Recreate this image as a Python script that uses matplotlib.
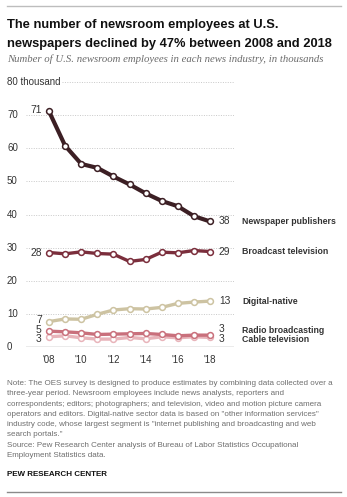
import matplotlib
matplotlib.use("Agg")
import matplotlib.pyplot as plt
from matplotlib.lines import Line2D
from matplotlib.transforms import blended_transform_factory

years = list(range(2008, 2019))
newspaper = [71.2, 60.8, 55.3, 54.1, 51.5, 49.1, 46.4, 44.1, 42.5, 39.5, 37.9]
broadcast = [28.5, 28.1, 28.7, 28.2, 28.0, 25.8, 26.4, 28.6, 28.4, 29.1, 28.8]
digital = [7.6, 8.4, 8.3, 9.8, 11.1, 11.5, 11.4, 11.9, 13.1, 13.5, 13.8]
radio = [4.7, 4.5, 4.2, 3.7, 3.8, 3.9, 4.0, 3.7, 3.3, 3.5, 3.5]
cable = [3.0, 3.3, 2.7, 2.3, 2.3, 2.8, 2.4, 3.0, 2.7, 3.0, 2.8]

series_names = ["Cable television", "Radio broadcasting", "Digital-native",
                "Broadcast television", "Newspaper publishers"]
series_values = [cable, radio, digital, broadcast, newspaper]
start_labels = ["3", "5", "7", "28", "71"]
end_labels = ["3", "3", "13", "29", "38"]
colors = ["#e8b4ba", "#c9707c", "#cdc3a2", "#7b2e3c", "#3c1f24"]

y_ticks = [0, 10, 20, 30, 40, 50, 60, 70, 80]
x_ticks = [2008, 2010, 2012, 2014, 2016, 2018]
x_ticklabels = ["'08", "'10", "'12", "'14", "'16", "'18"]

W, H = 347, 497
fig = plt.figure(figsize=(W / 100, H / 100), dpi=100)
fig.patch.set_facecolor("white")

sans = ["Liberation Sans", "DejaVu Sans"]
gray_txt = "#6e6e6e"

# top and bottom rules
fig.add_artist(Line2D([7 / W, 341 / W], [1 - 6 / H, 1 - 6 / H], color="#bdbdbd", lw=1))
fig.add_artist(Line2D([7 / W, 341 / W], [1 - 492 / H, 1 - 492 / H], color="#8a8a8a", lw=1))

fig.text(7 / W, 1 - 25 / H, "The number of newsroom employees at U.S.", family=sans,
         fontweight="bold", fontsize=9.3, va="center", ha="left", color="#111111")
fig.text(7 / W, 1 - 44 / H, "newspapers declined by 47% between 2008 and 2018", family=sans,
         fontweight="bold", fontsize=9.3, va="center", ha="left", color="#111111")
fig.text(7 / W, 1 - 59 / H, "Number of U.S. newsroom employees in each news industry, in thousands",
         family=["Liberation Serif", "DejaVu Serif"], style="italic", fontsize=7.75, va="center",
         ha="left", color="#6b6b6b")

ax = fig.add_axes([26 / W, 1 - 346.7 / H, 208 / W, (346.7 - 82.3) / H])
ax.set_xlim(2006.57, 2019.49)
ax.set_ylim(0, 80)
for s in ax.spines.values():
    s.set_visible(False)
ax.set_yticks([])
ax.set_xticks(x_ticks)
ax.set_xticklabels(x_ticklabels, family=sans, fontsize=7, color="#333333")
ax.tick_params(axis="x", length=0, pad=6)
ax.patch.set_alpha(0)

trans = blended_transform_factory(fig.transFigure, ax.transData)
for t in y_ticks:
    if t == 0:
        ax.axhline(0, color="#9e9e9e", lw=1, zorder=1)
        ax.text(7 / W, t, "0", transform=trans, family=sans, fontsize=7, va="center", color="#333333")
    elif t == 80:
        ax.plot([2006.57 + (62 - 26) / 16.1, 2019.49], [t, t], color="#c8c8c8",
                lw=0.7, ls=(0, (1, 1.5)), zorder=1)
        ax.text(7 / W, t, "80 thousand", transform=trans, family=sans, fontsize=7, va="center",
                color="#333333")
    else:
        ax.axhline(t, color="#c8c8c8", lw=0.7, ls=(0, (1, 1.5)), zorder=1)
        ax.text(7 / W, t, str(t), transform=trans, family=sans, fontsize=7, va="center",
                color="#333333")

for name, vals, c in zip(series_names, series_values, colors):
    lw = 3.0 if name == "Newspaper publishers" else 2.4
    ax.plot(years, vals, color=c, lw=lw, marker="o", ms=4.2, mfc="white", mec=c, mew=1.1,
            zorder=3, solid_capstyle="round")

# start value labels
start_y = [2.2, 5.05, 8.1, 28.3, 71.5]
for lab, y in zip(start_labels, start_y):
    ax.text(2007.55, y, lab, ha="right", va="center", family=sans, fontsize=7.4, color="#333333")

# end labels
end_y = [2.3, 5.3, 13.8, 28.8, 37.9]
name_y = [2.2, 5.05, 13.8, 28.8, 37.9]
for lab, y, name, ny in zip(end_labels, end_y, series_names, name_y):
    ax.text(2018.55, y, lab, ha="left", va="center", family=sans, fontsize=7.4, color="#333333",
            clip_on=False)
    ax.text(242 / W, ny, name, transform=trans, ha="left", va="center", family=sans,
            fontweight="bold", fontsize=6.3, color="#333333")

note = ("Note: The OES survey is designed to produce estimates by combining data collected over a\n"
        "three-year period. Newsroom employees include news analysts, reporters and\n"
        "correspondents; editors; photographers; and television, video and motion picture camera\n"
        "operators and editors. Digital-native sector data is based on \"other information services\"\n"
        "industry code, whose largest segment is \"internet publishing and broadcasting and web\n"
        "search portals.\"\n"
        "Source: Pew Research Center analysis of Bureau of Labor Statistics Occupational\n"
        "Employment Statistics data.")
fig.text(7 / W, 1 - 380 / H, note, family=sans, fontsize=5.72, va="top", ha="left",
         color=gray_txt, linespacing=1.66)
fig.text(7 / W, 1 - 474 / H, "PEW RESEARCH CENTER", family=sans, fontweight="bold",
         fontsize=5.8, va="center", ha="left", color="#111111")

fig.savefig("out.png", dpi=100)
